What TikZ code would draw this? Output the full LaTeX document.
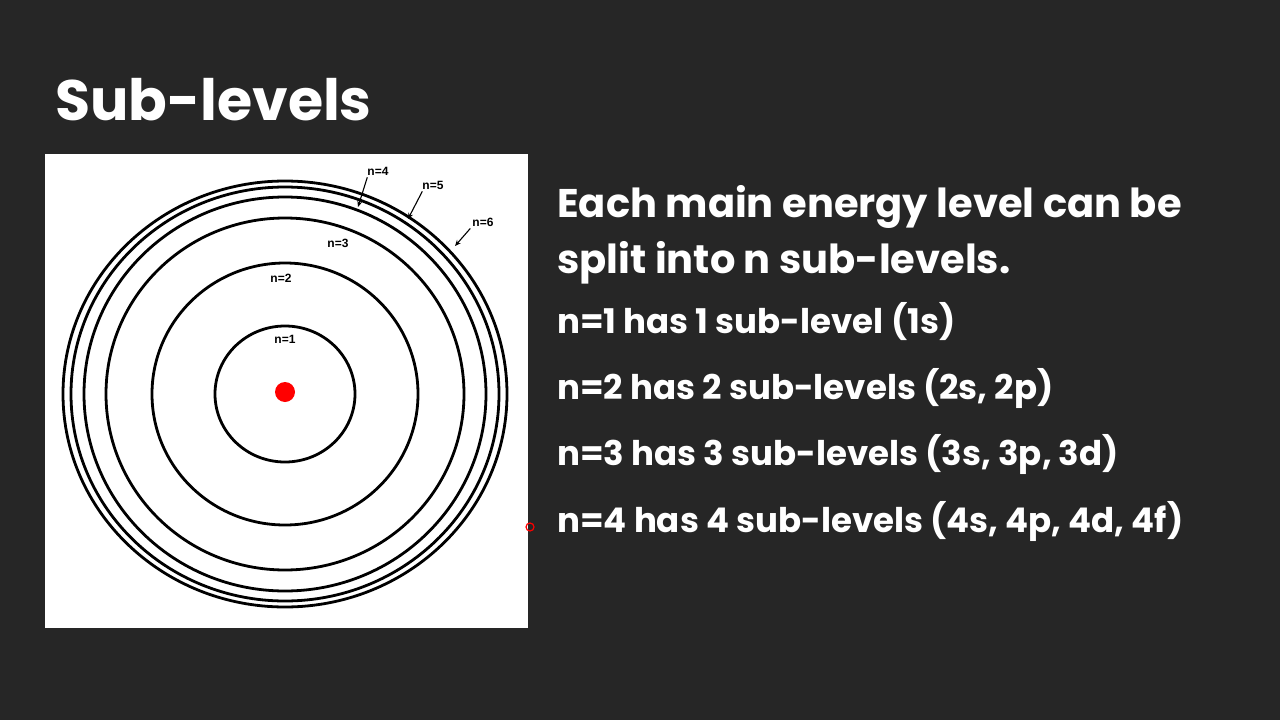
\documentclass[tikz,border=0pt]{standalone}
\usepackage{fontspec}
\usetikzlibrary{arrows.meta}
\setmainfont{Poppins}
\newfontfamily\lab{Liberation Sans}
\begin{document}
\begin{tikzpicture}[x=1pt,y=-1pt,
  orbit/.style={line width=2.8pt,draw=black},
  lbl/.style={font=\lab\bfseries\fontsize{12}{13}\selectfont,inner sep=0pt},
  arr/.style={-{Stealth[length=6pt,width=5pt]},line width=1.1pt},
  body/.style={anchor=west,text=white,inner sep=0pt,font=\bfseries\fontsize{34}{38}\selectfont}]
\fill[fill={rgb,255:red,38;green,38;blue,38}] (0,0) rectangle (1280,720);
\useasboundingbox (0,0) rectangle (1280,720);
\node[anchor=base west,text=white,inner sep=0pt,font=\bfseries\fontsize{57}{62}\selectfont] (title) at (55,120) {Sub-levels};
\fill[white] (45,154) rectangle (528,628);
\foreach \rx/\ry in {222/213,214/207,201/197,179/176,133/131,70/68}
  \draw[orbit] (285,394) ellipse ({\rx} and {\ry});
\fill[red] (285,392) circle (10);
\node[lbl] (l1) at (285,339) {n=1};
\node[lbl] (l2) at (281,278) {n=2};
\node[lbl] (l3) at (338,243) {n=3};
\node[lbl] (l4) at (378,171) {n=4};
\node[lbl] (l5) at (433,185) {n=5};
\node[lbl] (l6) at (483,222) {n=6};
\coordinate (t4) at (358,207);
\coordinate (t5) at (408,219);
\coordinate (t6) at (455,246);
\draw[arr] (l4.south west) ++(0,2) -- (t4);
\draw[arr] (l5.south west) ++(0,2) -- (t5);
\draw[arr] (l6.south west) ++(-2,2) -- (t6);
\node[body,font=\bfseries\fontsize{40}{44}\selectfont,anchor=base west] (h1) at (557,217) {Each main energy level can be};
\node[body,font=\bfseries\fontsize{40}{44}\selectfont,anchor=base west] (h2) at (557,273) {split into n sub-levels.};
\node[body,anchor=base west] (s1) at (557,333) {n=1 has 1 sub-level (1s)};
\node[body,anchor=base west] (s2) at (557,399) {n=2 has 2 sub-levels (2s, 2p)};
\node[body,anchor=base west] (s3) at (557,465) {n=3 has 3 sub-levels (3s, 3p, 3d)};
\node[body,anchor=base west] (s4) at (557,532) {n=4 has 4 sub-levels (4s, 4p, 4d, 4f)};
\draw[red,line width=1.2pt] (530,527) circle (4);
\end{tikzpicture}
\end{document}
